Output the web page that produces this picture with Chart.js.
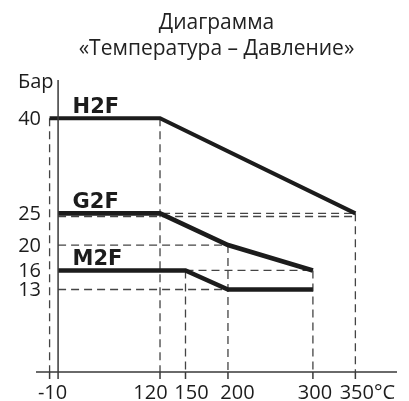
<!DOCTYPE html>
<html>
<head>
<meta charset="utf-8">
<script src="https://cdn.jsdelivr.net/npm/chart.js@4/dist/chart.umd.min.js"></script>
<style>
  body { margin: 0; background: #fff; }
</style>
</head>
<body>
<canvas id="ptChart" width="409" height="401"></canvas>
<script>
// values
const seriesNames = ['H2F', 'G2F', 'M2F'];
const h2fTemp = [-10, 120, 350];
const h2fBar = [40, 40, 25];
const g2fTemp = [0, 120, 200, 300];
const g2fBar = [25, 25, 20, 16];
const m2fTemp = [0, 150, 200, 300];
const m2fBar = [16, 16, 13, 13];

const xTicks = [-10, 120, 150, 200, 300, 350];
const xTickLabels = ['-10', '120', '150', '200', '300', '350°C'];
const yTicks = [40, 25, 20, 16, 13];

// dashed guide lines
const vGuideTop = [40, 40, 16, 20, 16, 25];   // one per x tick
const hGuideBar = [25, 24.5, 20, 16, 13];
const hGuideFrom = [0, 0, 0, 150, 0];
const hGuideTo = [350, 350, 200, 300, 200];

// small label nudges (px), the picture has them hand placed
const xLabelShift = [3, -9.5, 6, 9.5, 2, 12];

const ink = '#1c1c1c';
const guideColor = '#444';

function pts(xs, ys) {
  return xs.map((x, i) => ({ x: x, y: ys[i] }));
}

const solid = [
  pts(h2fTemp, h2fBar),
  pts(g2fTemp, g2fBar),
  pts(m2fTemp, m2fBar)
].map((d, i) => ({
  label: seriesNames[i],
  data: d,
  borderColor: ink,
  borderWidth: i === 0 ? 4 : 4.6,
  borderCapStyle: 'butt',
  borderJoinStyle: 'miter',
  pointRadius: 0,
  tension: 0,
  fill: false,
  clip: false
}));

const guides = [];
xTicks.forEach((x, i) => {
  guides.push([{ x: x, y: vGuideTop[i] }, { x: x, y: 0 }]);
});
hGuideBar.forEach((y, i) => {
  guides.push([{ x: hGuideFrom[i], y: y }, { x: hGuideTo[i], y: y }]);
});

const guideSets = guides.map(d => ({
  label: 'guide',
  data: d,
  borderColor: guideColor,
  borderWidth: 1.3,
  borderDash: [8, 5],
  pointRadius: 0,
  fill: false,
  clip: false
}));

// axes, tick labels and series names
const axesPlugin = {
  id: 'axesPlugin',
  afterDatasetsDraw(chart) {
    const ctx = chart.ctx;
    const xs = chart.scales.x, ys = chart.scales.y;
    const area = chart.chartArea;
    const x0 = xs.getPixelForValue(0);
    const y0 = ys.getPixelForValue(0);

    ctx.save();
    ctx.strokeStyle = '#3a3a3a';
    ctx.lineWidth = 1.5;
    ctx.beginPath();
    ctx.moveTo(area.left, y0);
    ctx.lineTo(area.right, y0);
    ctx.moveTo(x0, area.top);
    ctx.lineTo(x0, y0 + 7);
    xTicks.forEach(v => {
      const px = xs.getPixelForValue(v);
      ctx.moveTo(px, y0);
      ctx.lineTo(px, y0 + 7);
    });
    ctx.stroke();

    ctx.fillStyle = ink;
    ctx.font = '20px "Open Sans"';
    ctx.textAlign = 'center';
    ctx.textBaseline = 'alphabetic';
    xTicks.forEach((v, i) => {
      ctx.fillText(xTickLabels[i], xs.getPixelForValue(v) + xLabelShift[i], y0 + 27);
    });

    ctx.textAlign = 'right';
    ctx.textBaseline = 'middle';
    yTicks.forEach(v => {
      ctx.fillText(String(v), 41, ys.getPixelForValue(v) + 1);
    });

    ctx.textAlign = 'left';
    ctx.textBaseline = 'alphabetic';
    ctx.fillText('Бар', 18, 88);

    ctx.font = 'bold 21px "DejaVu Sans"';
    chart.data.datasets.slice(0, 3).forEach(ds => {
      ctx.fillText(ds.label, x0 + 14.5, ys.getPixelForValue(ds.data[0].y) - 5);
    });
    ctx.restore();
  }
};

new Chart(document.getElementById('ptChart'), {
  type: 'line',
  data: { datasets: solid.concat(guideSets) },
  options: {
    responsive: false,
    animation: false,
    layout: { padding: { top: 0, left: 36, right: 12, bottom: 29 } },
    scales: {
      x: { type: 'linear', min: -26, max: 399, display: false },
      y: { type: 'linear', min: 0, max: 46, display: false }
    },
    plugins: {
      legend: { display: false },
      tooltip: { enabled: false },
      title: {
        display: true,
        text: ['Диаграмма', '«Температура – Давление»'],
        color: '#222',
        font: { family: '"Open Sans"', size: 21, weight: 'normal', lineHeight: 1.24 },
        padding: { top: 10, bottom: 18 }
      }
    }
  },
  plugins: [axesPlugin]
});
</script>
</body>
</html>
